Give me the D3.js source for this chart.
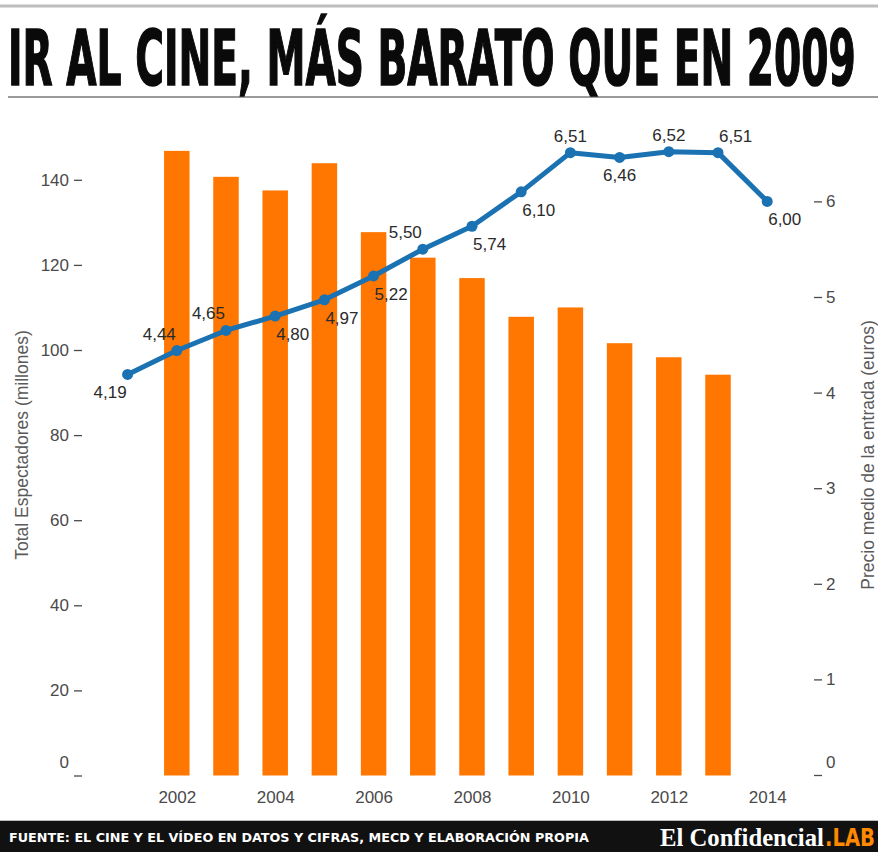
<!DOCTYPE html>
<html>
<head>
<meta charset="utf-8">
<script src="https://cdn.jsdelivr.net/npm/d3@7"></script>
<style>
  html, body { margin: 0; padding: 0; background: #fff; }
  svg { display: block; }
</style>
</head>
<body>
<svg id="chart" width="878" height="852"></svg>
<script>
// ---------- DATA ----------
const barYears = [2002, 2003, 2004, 2005, 2006, 2007, 2008, 2009, 2010, 2011, 2012, 2013];
const spectators = [146.8, 140.7, 137.5, 143.9, 127.7, 121.7, 116.9, 107.8, 110.0, 101.6, 98.3, 94.2];
const priceYears = [2001, 2002, 2003, 2004, 2005, 2006, 2007, 2008, 2009, 2010, 2011, 2012, 2013, 2014];
const prices = [4.19, 4.44, 4.65, 4.80, 4.97, 5.22, 5.50, 5.74, 6.10, 6.51, 6.46, 6.52, 6.51, 6.00];
const xTickYears = [2002, 2004, 2006, 2008, 2010, 2012, 2014];
const leftTicks = [0, 20, 40, 60, 80, 100, 120, 140];
const rightTicks = [0, 1, 2, 3, 4, 5, 6];
// label placement for each price point (a=above, b=below; s=start, m=middle, e=end)
const labelPlacement = ["be", "ae", "ae", "bs", "bs", "bs", "ae", "bs", "bs", "am", "bm", "am", "as", "bs"];

const title = "IR AL CINE, MÁS BARATO QUE EN 2009";
const leftTitle = "Total Espectadores (millones)";
const rightTitle = "Precio medio de la entrada (euros)";
const source = "FUENTE: EL CINE Y EL VÍDEO EN DATOS Y CIFRAS, MECD Y ELABORACIÓN PROPIA";

// ---------- SETUP ----------
const svg = d3.select("#chart");
const fmt = d => d.toFixed(2).replace(".", ",");
const ORANGE = "#ff7700";
const BLUE = "#1a72b2";
const GREY = "#4a4a4a";

const x = d3.scaleLinear().domain([2001, 2014]).range([127.6, 767.2]);
const yL = d3.scaleLinear().domain([0, 140]).range([775.5, 179.8]);
const yR = d3.scaleLinear().domain([0, 6]).range([775, 201.4]);

// helper: squeeze a text horizontally to a given width using a transform
function fitWidth(sel, x0, y0, width) {
  const w = sel.node().getComputedTextLength();
  sel.attr("transform", `translate(${x0},${y0}) scale(${width / w},1)`);
}

// ---------- HEADER ----------
svg.append("rect").attr("x", 0).attr("y", 4.5).attr("width", 878).attr("height", 3).attr("fill", "#bdbdbd");
svg.append("rect").attr("x", 8).attr("y", 96).attr("width", 870).attr("height", 2).attr("fill", "#9a9a9a");
const titleText = svg.append("text")
  .attr("x", 0).attr("y", 0)
  .attr("font-family", "DejaVu Sans Condensed, DejaVu Sans, sans-serif")
  .attr("font-weight", "bold")
  .attr("font-size", 76)
  .attr("fill", "#0a0a0a")
  .attr("stroke", "#0a0a0a")
  .attr("stroke-width", 1.5)
  .text(title);
fitWidth(titleText, 8, 85, 848);

// ---------- BARS ----------
const barW = 25.5;
svg.append("g").selectAll("rect")
  .data(barYears.map((yr, i) => ({ yr, v: spectators[i] })))
  .join("rect")
  .attr("x", d => x(d.yr) - barW / 2)
  .attr("y", d => yL(d.v))
  .attr("width", barW)
  .attr("height", d => yL(0) - yL(d.v))
  .attr("fill", ORANGE);

// ---------- AXES ----------
const axisFont = "Liberation Sans, Arial, sans-serif";
const gL = svg.append("g").attr("transform", "translate(82,0)")
  .call(d3.axisLeft(yL).tickValues(leftTicks).tickSize(8).tickPadding(5).tickFormat(d3.format("d")));
const gR = svg.append("g").attr("transform", "translate(814,0)")
  .call(d3.axisRight(yR).tickValues(rightTicks).tickSize(8).tickPadding(4).tickFormat(d3.format("d")));
const gX = svg.append("g").attr("transform", "translate(0,775)")
  .call(d3.axisBottom(x).tickValues(xTickYears).tickSize(0).tickPadding(16).tickFormat(d3.format("d")));

[gL, gR, gX].forEach(g => {
  g.select(".domain").remove();
  g.selectAll(".tick line").attr("stroke", GREY).attr("stroke-width", 1.3);
  g.selectAll(".tick text").attr("fill", GREY).attr("font-size", 17).attr("font-family", axisFont);
});
// zero labels sit above their tick mark
gL.selectAll(".tick").filter(d => d === 0).select("text").attr("dy", "-0.45em");
gR.selectAll(".tick").filter(d => d === 0).select("text").attr("dy", "-0.45em");

// axis titles
svg.append("text")
  .attr("transform", `translate(28,${445}) rotate(-90)`)
  .attr("text-anchor", "middle")
  .attr("font-family", axisFont).attr("font-size", 17.5).attr("fill", "#5a5a5a")
  .text(leftTitle);
svg.append("text")
  .attr("transform", `translate(874,${455}) rotate(-90)`)
  .attr("text-anchor", "middle")
  .attr("font-family", axisFont).attr("font-size", 17.5).attr("fill", "#5a5a5a")
  .text(rightTitle);

// ---------- LINE ----------
const pts = priceYears.map((yr, i) => ({ yr, v: prices[i], p: labelPlacement[i] }));
svg.append("path")
  .datum(pts)
  .attr("d", d3.line().x(d => x(d.yr)).y(d => yR(d.v)))
  .attr("fill", "none")
  .attr("stroke", BLUE)
  .attr("stroke-width", 5)
  .attr("stroke-linejoin", "round")
  .attr("stroke-linecap", "round");
svg.append("g").selectAll("circle")
  .data(pts)
  .join("circle")
  .attr("cx", d => x(d.yr))
  .attr("cy", d => yR(d.v))
  .attr("r", 5.5)
  .attr("fill", BLUE);

svg.append("g").selectAll("text")
  .data(pts)
  .join("text")
  .attr("x", d => x(d.yr) + (d.p[1] === "s" ? 1 : d.p[1] === "e" ? -1 : 0))
  .attr("y", d => yR(d.v) + (d.p[0] === "a" ? -11 : 24))
  .attr("text-anchor", d => d.p[1] === "s" ? "start" : d.p[1] === "e" ? "end" : "middle")
  .attr("font-family", axisFont)
  .attr("font-size", 17)
  .attr("fill", "#2b2b2b")
  .text(d => fmt(d.v));

// ---------- FOOTER ----------
svg.append("rect").attr("x", 0).attr("y", 821).attr("width", 878).attr("height", 31).attr("fill", "#111");
svg.append("rect").attr("x", 0).attr("y", 820).attr("width", 878).attr("height", 1).attr("fill", "#bbb");
const src = svg.append("text")
  .attr("x", 0).attr("y", 0)
  .attr("font-family", "DejaVu Sans Condensed, DejaVu Sans, sans-serif")
  .attr("font-weight", "bold")
  .attr("font-size", 12.5)
  .attr("fill", "#fff")
  .text(source);
fitWidth(src, 9, 842, 580);
const brand = svg.append("text")
  .attr("x", 0).attr("y", 0)
  .attr("font-family", "Liberation Serif, Times New Roman, serif")
  .attr("font-weight", "bold")
  .attr("font-size", 25)
  .attr("fill", "#fff")
  .text("El Confidencial");
fitWidth(brand, 660, 846, 164);
const lab = svg.append("text")
  .attr("x", 0).attr("y", 0)
  .attr("font-family", "DejaVu Sans Condensed, DejaVu Sans, sans-serif")
  .attr("font-weight", "bold")
  .attr("font-size", 24)
  .attr("fill", "#ff8a00")
  .text(".LAB");
fitWidth(lab, 825, 846, 50);
</script>
</body>
</html>
